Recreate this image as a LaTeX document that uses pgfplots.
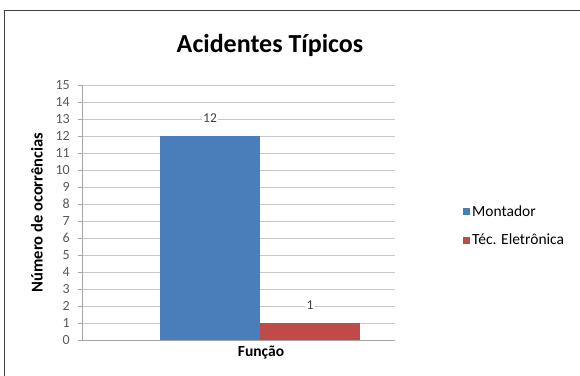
\documentclass[border=0pt]{standalone}
\usepackage{fontspec}
\setmainfont{Carlito}
\usepackage{pgfplots}
\pgfplotsset{compat=1.18}
\definecolor{barblue}{HTML}{4A7EBB}
\definecolor{barred}{HTML}{BE4B48}
\begin{document}
\begin{tikzpicture}
\begin{axis}[
  scale only axis, width=313pt, height=255pt,
  xmin=82, xmax=395, ymin=0, ymax=15,
  clip=false,
  ytick={0,1,...,15},
  xtick=\empty,
  ymajorgrids, grid style={black!22, line width=0.9pt},
  axis x line*=bottom, axis y line*=left,
  axis line style={black!35, line width=0.9pt},
  y axis line style={-}, x axis line style={-},
  tick style={black!35}, major tick length=4pt,
  tick align=outside,
  /pgf/number format/assume math mode=true,
  yticklabel style={font=\fontsize{14}{14}\selectfont, text=black!65, inner sep=2pt, xshift=-6pt},
  ylabel={\textbf{Número de ocorrências}},
  ylabel style={font=\fontsize{16.5}{18}\selectfont, at={(axis cs:37,7.5)}, anchor=center},
  xlabel={\textbf{Função}},
  xlabel style={font=\fontsize{15.5}{17}\selectfont, at={(axis cs:261,-0.765)}, anchor=center},
  ybar, bar width=100,
  nodes near coords,
  nodes near coords style={font=\fontsize{13.5}{14}\selectfont, text=black!75, fill=white,
    inner sep=1.5pt, anchor=center, yshift=17.5pt},
  legend style={draw=none, fill=none, at={(axis cs:463,6.706)}, anchor=west,
    font=\fontsize{15.5}{17}\selectfont, row sep=12pt, cells={anchor=west}, inner sep=0pt},
  legend image code/.code={\fill[#1] (0pt,-3.5pt) rectangle (7pt,3.5pt);},
]
\addplot[fill=barblue, draw=none, bar shift=-50] coordinates {(260,12)};
\addplot[fill=barred, draw=none, bar shift=50] coordinates {(260,1)};
\legend{Montador, Téc. Eletrônica}
\node[font=\bfseries\fontsize{26}{28}\selectfont] at (axis cs:270,17.353) {Acidentes Típicos};
\draw[black!75, line width=1pt] (axis cs:5,-3) rectangle (axis cs:600,19.353);
\coordinate (bbA) at (axis cs:0,20);
\coordinate (bbB) at (axis cs:580,-2.117647);
\end{axis}
\pgfresetboundingbox
\path[use as bounding box] (bbA) rectangle (bbB);
\end{tikzpicture}
\end{document}
